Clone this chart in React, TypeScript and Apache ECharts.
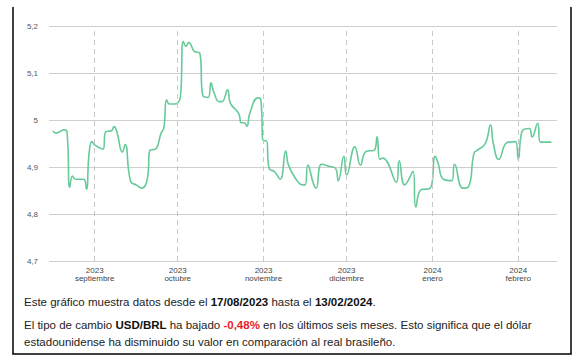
import React, { useEffect, useRef } from "react";
import * as echarts from "echarts";

const dates: string[] = [
  "2023-08-17","2023-08-18","2023-08-21","2023-08-22","2023-08-23","2023-08-24","2023-08-25","2023-08-28","2023-08-29","2023-08-30","2023-08-31",
  "2023-09-01","2023-09-04","2023-09-05","2023-09-07","2023-09-08","2023-09-09","2023-09-11","2023-09-12","2023-09-14","2023-09-16","2023-09-18","2023-09-20","2023-09-21","2023-09-22","2023-09-23","2023-09-25","2023-09-26","2023-09-27","2023-09-28","2023-09-30",
  "2023-10-01","2023-10-02","2023-10-03","2023-10-04","2023-10-05","2023-10-07","2023-10-09","2023-10-10","2023-10-12","2023-10-13","2023-10-14","2023-10-16","2023-10-17","2023-10-19","2023-10-20","2023-10-23","2023-10-24","2023-10-25","2023-10-26","2023-10-27","2023-10-30","2023-10-31",
  "2023-11-01","2023-11-02","2023-11-03","2023-11-05","2023-11-07","2023-11-09","2023-11-10","2023-11-13","2023-11-15","2023-11-16","2023-11-17","2023-11-19","2023-11-20","2023-11-22","2023-11-25","2023-11-27","2023-11-28","2023-11-30",
  "2023-12-01","2023-12-04","2023-12-06","2023-12-08","2023-12-11","2023-12-12","2023-12-13","2023-12-14","2023-12-19","2023-12-20","2023-12-22","2023-12-25","2023-12-26","2023-12-28","2023-12-31",
  "2024-01-02","2024-01-03","2024-01-05","2024-01-08","2024-01-09","2024-01-12","2024-01-14","2024-01-16","2024-01-17","2024-01-20","2024-01-22","2024-01-23","2024-01-25","2024-01-28","2024-01-31",
  "2024-02-01","2024-02-02","2024-02-03","2024-02-05","2024-02-06","2024-02-08","2024-02-09","2024-02-13",
];

const rates: number[] = [
  4.977,4.972,4.979,4.975,4.857,4.881,4.874,4.874,4.853,4.93,4.954,
  4.947,4.938,4.975,4.977,4.986,4.975,4.932,4.948,4.869,4.862,4.855,4.874,4.936,4.937,4.938,4.972,4.984,5.043,5.034,5.034,
  5.036,5.05,5.167,5.157,5.165,5.146,5.142,5.053,5.048,5.079,5.06,5.039,5.039,5.064,5.036,5.014,4.994,4.994,4.987,5.014,5.047,5.043,
  4.956,4.956,4.897,4.89,4.874,4.934,4.904,4.872,4.862,4.862,4.904,4.865,4.855,4.906,4.901,4.897,4.871,4.923,
  4.883,4.943,4.904,4.933,4.936,4.964,4.916,4.919,4.867,4.913,4.862,4.891,4.815,4.852,4.854,
  4.923,4.909,4.874,4.871,4.906,4.855,4.858,4.929,4.935,4.949,4.989,4.95,4.916,4.952,4.954,
  4.916,4.966,4.98,4.982,4.964,4.993,4.953,4.953,
];

const monthStarts: string[] = ["2023-09-01","2023-10-01","2023-11-01","2023-12-01","2024-01-01","2024-02-01"];
const monthNames: string[] = ["enero","febrero","marzo","abril","mayo","junio","julio","agosto","septiembre","octubre","noviembre","diciembre"];
const yTicks: number[] = [4.7, 4.8, 4.9, 5.0, 5.1, 5.2];

const toTs = (s: string) => new Date(s + "T00:00:00").getTime();
const FONT = "'Liberation Sans', Arial, sans-serif";

export default function App() {
  const ref = useRef<HTMLDivElement>(null);
  useEffect(() => {
    if (!ref.current) return;
    const chart = echarts.init(ref.current, undefined, { renderer: "svg" });
    const data = dates.map((d, i) => [toTs(d), rates[i]]);
    const monthTs = monthStarts.map(toTs);
    chart.setOption({
      animation: false,
      backgroundColor: "#ffffff",
      grid: { left: 49, right: 22, top: 26, bottom: 102, containLabel: false },
      xAxis: {
        type: "value",
        scale: true,
        min: toTs("2023-08-15") + 12 * 3600 * 1000,
        max: toTs("2024-02-15"),
        axisLine: { show: false },
        axisTick: { show: false },
        splitLine: { show: false },
        axisLabel: {
          customValues: monthTs,
          margin: 5,
          color: "#444",
          fontSize: 8,
          lineHeight: 8.5,
          fontFamily: FONT,
          formatter: (v: number) => {
            const d = new Date(v);
            return d.getFullYear() + "\n" + monthNames[d.getMonth()];
          },
        },
      },
      yAxis: {
        type: "value",
        min: 4.7,
        max: 5.2,
        interval: 0.1,
        axisLine: { show: false },
        axisTick: { show: false },
        splitLine: { lineStyle: { color: "#cfcfcf", width: 1 } },
        axisLabel: {
          margin: 11,
          color: "#555",
          fontSize: 8,
          fontFamily: FONT,
          formatter: (v: number) => {
            const t = yTicks.find((x) => Math.abs(x - v) < 1e-6) ?? v;
            return String(parseFloat(t.toFixed(1))).replace(".", ",");
          },
        },
      },
      series: [
        {
          type: "line",
          data,
          showSymbol: false,
          smooth: 0.5,
          lineStyle: { color: "#66ca99", width: 1.6 },
          itemStyle: { color: "#66ca99" },
          markLine: {
            silent: true,
            symbol: "none",
            label: { show: false },
            lineStyle: { type: [5, 4], color: "#c8c8c8", width: 1 },
            data: monthTs.map((t) => ({ xAxis: t })),
          },
          z: 3,
        },
      ],
      graphic: [
        { type: "line", shape: { x1: 13, y1: 7, x2: 13, y2: 354 }, style: { stroke: "#000", lineWidth: 1.5 } },
        { type: "line", shape: { x1: 12.25, y1: 354, x2: 571.75, y2: 354 }, style: { stroke: "#000", lineWidth: 1.5 } },
        { type: "line", shape: { x1: 571, y1: 7, x2: 571, y2: 354 }, style: { stroke: "#000", lineWidth: 1.5 } },
        {
          type: "text",
          x: 24,
          y: 302,
          style: {
            text: "{n|Este gráfico muestra datos desde el }{b|17/08/2023}{n| hasta el }{b|13/02/2024}{n|.}",
            verticalAlign: "middle",
            rich: {
              n: { fontSize: 11.5, fontFamily: FONT, fill: "#222" },
              b: { fontSize: 11.5, fontFamily: FONT, fill: "#111", fontWeight: "bold" },
            },
          },
        },
        {
          type: "text",
          x: 24,
          y: 325,
          style: {
            text: "{n|El tipo de cambio }{b|USD/BRL}{n| ha bajado }{r|-0,48%}{n| en los últimos seis meses. Esto significa que el dólar}",
            verticalAlign: "middle",
            rich: {
              n: { fontSize: 11.5, fontFamily: FONT, fill: "#222" },
              b: { fontSize: 11.5, fontFamily: FONT, fill: "#111", fontWeight: "bold" },
              r: { fontSize: 11.5, fontFamily: FONT, fill: "#e8202a", fontWeight: "bold" },
            },
          },
        },
        {
          type: "text",
          x: 24,
          y: 342,
          style: {
            text: "estadounidense ha disminuido su valor en comparación al real brasileño.",
            verticalAlign: "middle",
            fontSize: 11.5,
            fontFamily: FONT,
            fill: "#222",
          },
        },
      ],
    });
    return () => chart.dispose();
  }, []);
  return (
    <div style={{ position: "absolute", left: 0, top: 0, width: 579, height: 363, background: "#fff" }}>
      <div ref={ref} style={{ width: 579, height: 363 }} />
    </div>
  );
}
